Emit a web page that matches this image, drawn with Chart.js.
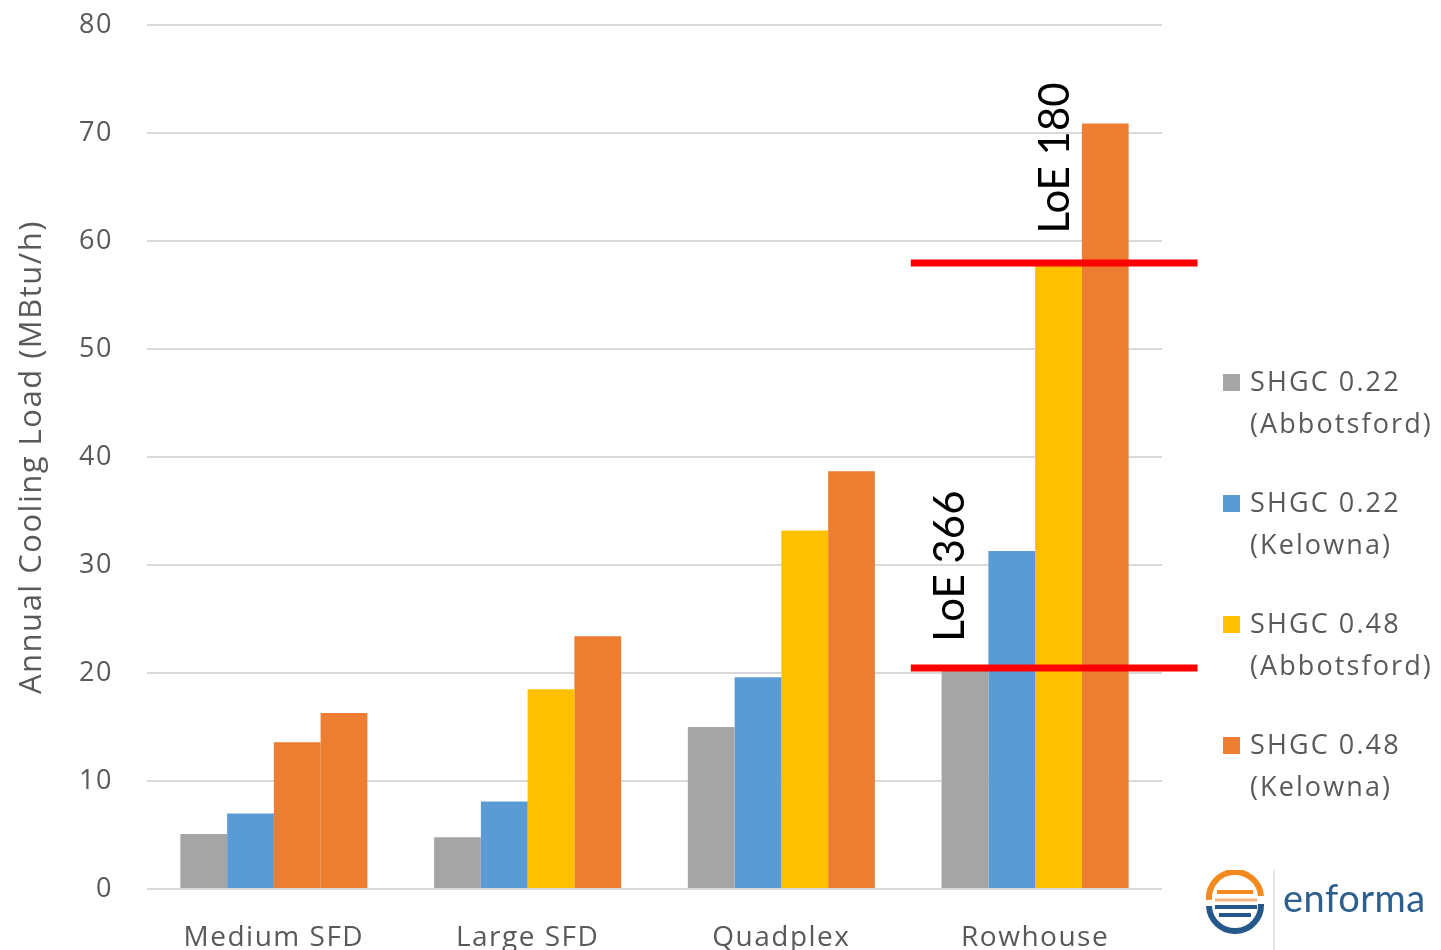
<!DOCTYPE html>
<html>
<head>
<meta charset="utf-8">
<script src="https://cdn.jsdelivr.net/npm/chart.js@4/dist/chart.umd.min.js"></script>
<style>
  body { margin: 0; background: #fff; overflow: hidden; }
  #wrap { position: relative; width: 1441px; height: 950px; overflow: hidden; }
  canvas { position: absolute; left: 0; top: -25px; }
  #legend { position: absolute; left: 1223px; top: 360px; font-family: "Open Sans", sans-serif; font-size: 27px; color: #595959; letter-spacing: 2.1px; }
  .item { position: relative; height: 121px; }
  .sw { position: absolute; left: 0; top: 14px; width: 17px; height: 17px; }
  .txt { position: absolute; left: 27px; top: 0; line-height: 42px; white-space: nowrap; }
  #logo { position: absolute; left: 1203px; top: 866px; width: 238px; height: 84px; }
  #logo .brand { position: absolute; left: 80px; top: 8px; font-family: Lato, sans-serif; font-size: 38px; color: #2d5f8f; letter-spacing: 0.5px; }
  #logo .sep { position: absolute; left: 70px; top: 4px; width: 2px; height: 80px; background: #e6e6e6; }
</style>
</head>
<body>
<div id="wrap">
  <canvas id="c" width="1441" height="995"></canvas>
  <div id="legend"></div>
  <div id="logo">
    <svg width="64" height="64" viewBox="0 0 64 64" style="position:absolute;left:0;top:4px">
      <path d="M6 30 A26 26 0 0 1 58 26" fill="none" stroke="#f28a1f" stroke-width="6"/>
      <path d="M58 34 A26 26 0 0 1 6 36" fill="none" stroke="#24578a" stroke-width="6"/>
      <path d="M14 22 H50" stroke="#f28a1f" stroke-width="4"/>
      <path d="M12 30 H54" stroke="#f5b27a" stroke-width="3"/>
      <path d="M12 37 H54" stroke="#24578a" stroke-width="4"/>
      <path d="M16 45 H48" stroke="#24578a" stroke-width="4"/>
    </svg>
    <div class="sep"></div>
    <div class="brand">enforma</div>
  </div>
</div>
<script>
const categories = ['Medium SFD', 'Large SFD', 'Quadplex', 'Rowhouse'];
const seriesLabels = [
  ['SHGC 0.22', '(Abbotsford)'],
  ['SHGC 0.22', '(Kelowna)'],
  ['SHGC 0.48', '(Abbotsford)'],
  ['SHGC 0.48', '(Kelowna)']
];
const shgc022Abbotsford = [5.1, 4.8, 15.0, 20.3];
const shgc022Kelowna = [7.0, 8.1, 19.6, 31.3];
const shgc048Abbotsford = [13.6, 18.5, 33.2, 58.2];
const shgc048Kelowna = [16.3, 23.4, 38.7, 70.9];
const yTicks = [0, 10, 20, 30, 40, 50, 60, 70, 80];

// red marker lines and their rotated labels (values on the y axis)
const loeLines = [20.5, 58.0];
const loeLabels = ['LoE 366', 'LoE 180'];
const loeLabelBase = [22.9, 60.7];

const colors = ['#a5a5a5', '#5b9bd5', '#ffc000', '#ed7d31'];
const gray = '#595959';

// looser letter spacing, like the original's axis text
const spacingPlugin = {
  id: 'spacing',
  beforeDraw (chart) { chart.ctx.letterSpacing = '1.5px'; },
  beforeDatasetsDraw (chart) { chart.ctx.letterSpacing = '0px'; },
  afterDatasetsDraw (chart) { chart.ctx.letterSpacing = '1.5px'; }
};

const loePlugin = {
  id: 'loe',
  afterDatasetsDraw (chart) {
    const { ctx, scales: { x, y } } = chart;
    const center = x.getPixelForValue(3);
    const cw = x.getPixelForValue(1) - x.getPixelForValue(0);
    ctx.save();
    ctx.letterSpacing = '0px';
    ctx.strokeStyle = '#ff0000';
    ctx.lineWidth = 7;
    loeLines.forEach(v => {
      const py = Math.round(y.getPixelForValue(v));
      ctx.beginPath();
      ctx.moveTo(center - 0.49 * cw, py);
      ctx.lineTo(center + 0.64 * cw, py);
      ctx.stroke();
    });
    ctx.fillStyle = '#000';
    ctx.font = '42px Lato, sans-serif';
    ctx.textAlign = 'left';
    ctx.textBaseline = 'middle';
    const xs = [center - 0.335 * cw, center + 0.08 * cw];
    loeLabels.forEach((t, i) => {
      ctx.save();
      ctx.translate(xs[i], y.getPixelForValue(loeLabelBase[i]));
      ctx.rotate(-Math.PI / 2);
      ctx.fillText(t, 0, 0);
      ctx.restore();
    });
    ctx.restore();
  }
};

const legendEl = document.getElementById('legend');
seriesLabels.forEach((lbl, i) => {
  const d = document.createElement('div');
  d.className = 'item';
  d.innerHTML = '<div class="sw" style="background:' + colors[i] + '"></div><div class="txt">' + lbl.join('<br>') + '</div>';
  legendEl.appendChild(d);
});

new Chart(document.getElementById('c'), {
  type: 'bar',
  data: {
    labels: categories,
    datasets: [
      { label: seriesLabels[0].join(' '), data: shgc022Abbotsford, backgroundColor: colors[0] },
      { label: seriesLabels[1].join(' '), data: shgc022Kelowna, backgroundColor: colors[1] },
      // first bar of this series is orange in the original
      { label: seriesLabels[2].join(' '), data: shgc048Abbotsford, backgroundColor: [colors[3], colors[2], colors[2], colors[2]] },
      { label: seriesLabels[3].join(' '), data: shgc048Kelowna, backgroundColor: colors[3] }
    ]
  },
  options: {
    responsive: false,
    devicePixelRatio: 1,
    animation: false,
    layout: { padding: { top: 0, right: 279, left: 0, bottom: 0 } },
    datasets: { bar: { categoryPercentage: 0.737, barPercentage: 1 } },
    plugins: { legend: { display: false }, tooltip: { enabled: false } },
    scales: {
      x: {
        grid: { display: false },
        border: { display: false },
        ticks: { color: gray, font: { family: 'Open Sans', size: 28 }, padding: 24, maxRotation: 0 },
        afterFit: s => { s.height = 81; }
      },
      y: {
        min: 0,
        max: 80,
        afterBuildTicks: s => { s.ticks = yTicks.map(v => ({ value: v })); },
        grid: { color: '#d9d9d9', lineWidth: 2, drawTicks: false },
        border: { display: false },
        ticks: { color: gray, font: { family: 'Open Sans', size: 27 }, padding: 34 },
        title: { display: true, text: 'Annual Cooling Load (MBtu/h)', color: gray, font: { family: 'Open Sans', size: 31 }, padding: { top: 14, bottom: 0 } },
        afterFit: s => { s.width = 147; }
      }
    }
  },
  plugins: [spacingPlugin, loePlugin]
});
</script>
</body>
</html>
